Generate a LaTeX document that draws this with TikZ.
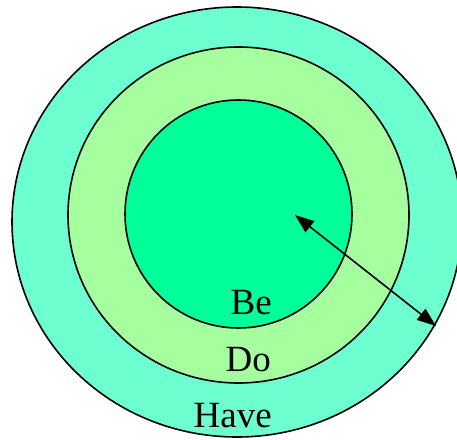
\documentclass[tikz,border=0pt]{standalone}
\usepackage{fontspec}
\setmainfont{Liberation Serif}
\usepackage{tikz}
\usetikzlibrary{arrows.meta,shapes.geometric}
\definecolor{haveaqua}{RGB}{110,255,208}
\definecolor{dolime}{RGB}{166,255,158}
\definecolor{begreen}{RGB}{0,255,153}

\begin{document}
\begin{tikzpicture}[x=1pt,y=-1pt,>={Triangle[length=19pt,width=14pt]},
  ring/.style={ellipse,draw=black,line width=1.6pt,inner sep=0pt},
  word/.style={anchor=base east,inner sep=0pt,font=\fontsize{37}{40}\selectfont}]
\useasboundingbox (0,0) rectangle (457,439);
\node[ring,fill=haveaqua,minimum width=450pt,minimum height=430pt] (have-ring) at (237,222) {};
\node[ring,fill=dolime,minimum width=341pt,minimum height=336pt] (do-ring) at (238.5,215) {};
\node[ring,fill=begreen,minimum width=227pt,minimum height=228pt] (be-ring) at (238.5,214) {};
\node[word] (be) at (272,314) {Be};
\node[word] (do) at (271,371) {Do};
\node[word] (have) at (272,427) {Have};
\coordinate (reach-in) at (295,215);
\coordinate (reach-out) at (436,326);
\draw[<->,line width=1.6pt] (reach-in) -- (reach-out);
\end{tikzpicture}
\end{document}
